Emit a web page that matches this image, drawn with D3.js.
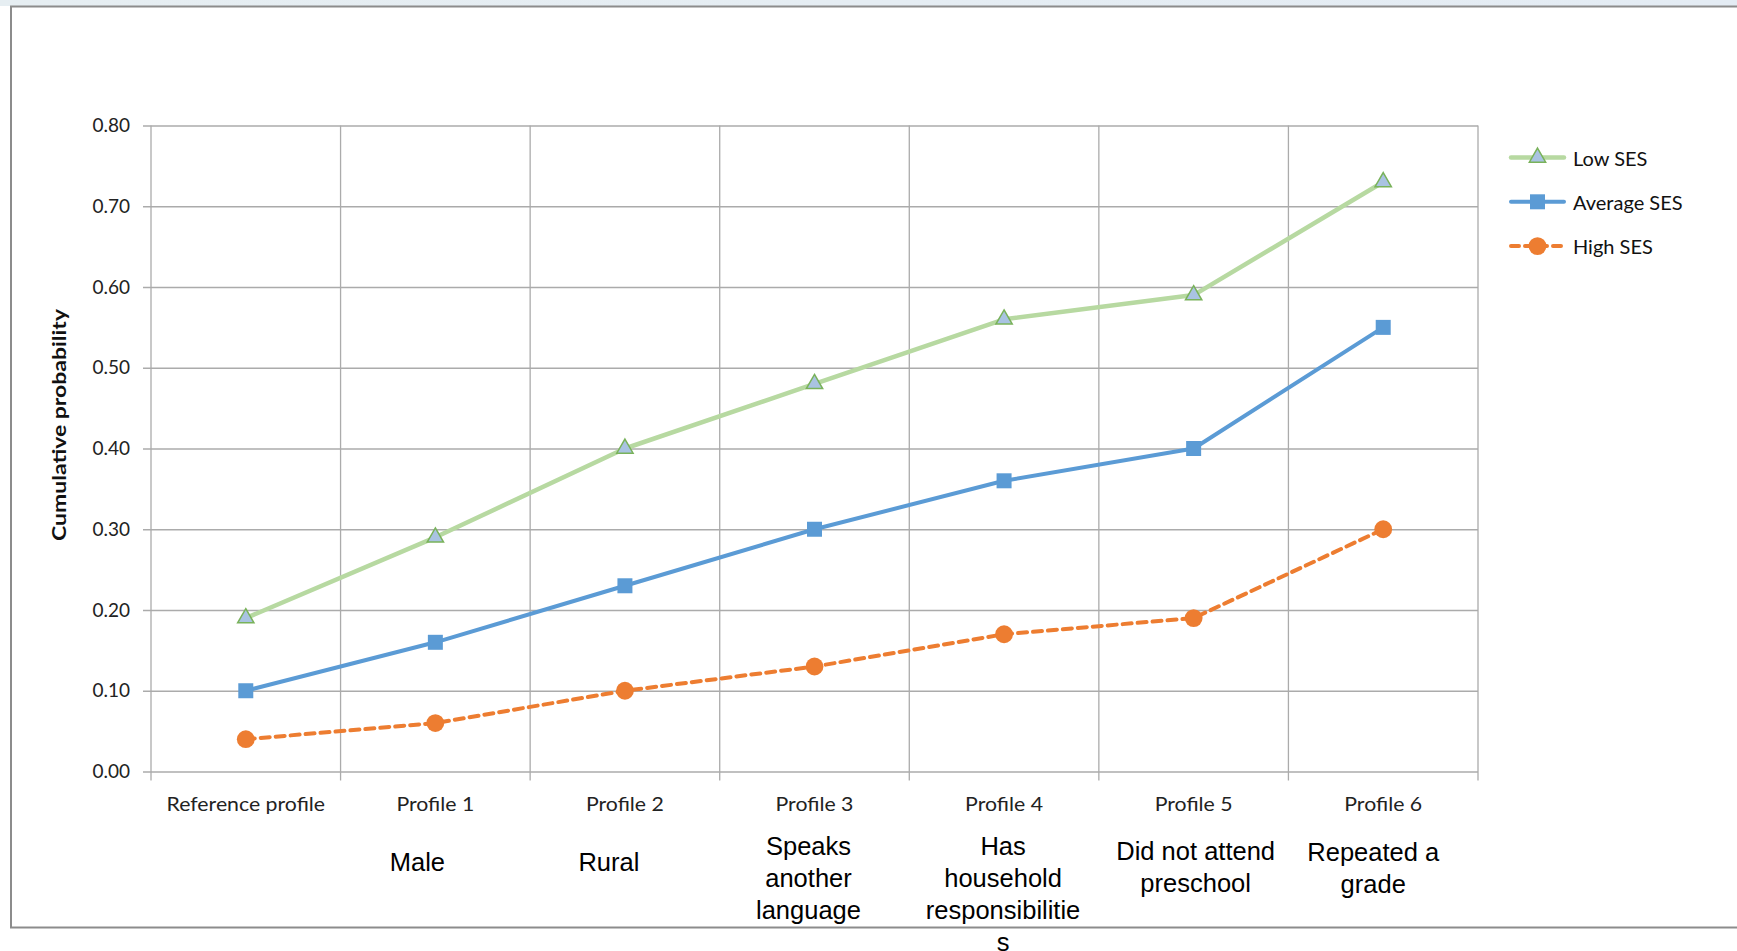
<!DOCTYPE html>
<html>
<head>
<meta charset="utf-8">
<script src="https://cdn.jsdelivr.net/npm/d3@7"></script>
<style>
  html, body { margin: 0; padding: 0; background: #ffffff; }
  svg { display: block; }
</style>
</head>
<body>
<svg id="chart" width="1737" height="951"></svg>
<script>
// Profiles along the x axis
const categories = ["Reference profile", "Profile 1", "Profile 2", "Profile 3", "Profile 4", "Profile 5", "Profile 6"];

// Description of each profile, drawn under the axis (one entry per line)
const descriptions = [
  [],
  ["Male"],
  ["Rural"],
  ["Speaks", "another", "language"],
  ["Has", "household", "responsibilitie", "s"],
  ["Did not attend", "preschool"],
  ["Repeated a", "grade"]
];

// Cumulative probability by socio-economic status
const lowSES     = [0.19, 0.29, 0.40, 0.48, 0.56, 0.59, 0.73];
const averageSES = [0.10, 0.16, 0.23, 0.30, 0.36, 0.40, 0.55];
const highSES    = [0.04, 0.06, 0.10, 0.13, 0.17, 0.19, 0.30];

const seriesNames = ["Low SES", "Average SES", "High SES"];
const yTicks = [0, 0.1, 0.2, 0.3, 0.4, 0.5, 0.6, 0.7, 0.8];

// ---- layout ----
const W = 1737, H = 951;
const plot = { left: 151, right: 1478, top: 125.5, bottom: 771.5 };
const labelFont = "Lato, 'Open Sans', sans-serif";

// fine offsets for the description boxes (x shift, y of first line centre)
const descLayout = [
  { dx: 0,   y: 0 },
  { dx: -18, y: 862 },
  { dx: -16, y: 862 },
  { dx: -6,  y: 845.5 },
  { dx: -1,  y: 845.5 },
  { dx: 2,   y: 851 },
  { dx: -10, y: 852 }
];

const svg = d3.select("#chart");

// window strip and chart frame
const grad = svg.append("defs").append("linearGradient")
  .attr("id", "strip").attr("x1", 0).attr("x2", 1).attr("y1", 0).attr("y2", 0);
grad.append("stop").attr("offset", "0%").attr("stop-color", "#e6eef2");
grad.append("stop").attr("offset", "100%").attr("stop-color", "#e4ecf4");
svg.append("rect").attr("x", 0).attr("y", 0).attr("width", W).attr("height", 6)
  .attr("fill", "url(#strip)");
svg.append("rect")
  .attr("x", 11).attr("y", 6.5).attr("width", W + 20).attr("height", 921)
  .attr("fill", "#ffffff").attr("stroke", "#8c8c8c").attr("stroke-width", 2);

const x = d3.scaleBand().domain(categories).range([plot.left, plot.right]).padding(0);
const y = d3.scaleLinear().domain([0, 0.8]).range([plot.bottom, plot.top]);

const cx = c => x(c) + x.bandwidth() / 2;
const gridColor = "#ababab";

// horizontal gridlines with y axis
const yAxis = d3.axisLeft(y).tickValues(yTicks).tickFormat(d3.format(".2f"))
  .tickSize(-(plot.right - plot.left)).tickPadding(14);
const gy = svg.append("g").attr("transform", `translate(${plot.left},0)`).call(yAxis);
gy.select(".domain").remove();
gy.selectAll(".tick line").attr("stroke", gridColor).attr("stroke-width", 1.3)
  .attr("x1", -8);
gy.selectAll(".tick text")
  .attr("font-family", labelFont).attr("font-size", 19)
  .attr("fill", "#222").attr("x", -21);

// vertical gridlines at band boundaries (and the plot edges)
const boundaries = categories.map(c => x(c)).concat([x.range()[1]]);
svg.append("g").selectAll("line").data(boundaries).join("line")
  .attr("x1", d => d).attr("x2", d => d)
  .attr("y1", plot.top).attr("y2", plot.bottom + 9)
  .attr("stroke", gridColor).attr("stroke-width", 1.3);

// category tick labels (slightly widened type)
svg.append("g").selectAll("g").data(categories).join("g")
  .attr("transform", d => `translate(${cx(d)},811) scale(1.12,1)`)
  .append("text")
  .attr("text-anchor", "middle")
  .attr("font-family", labelFont).attr("font-size", 19)
  .attr("fill", "#222").text(d => d);

// profile descriptions
const lineH = 32;
categories.forEach((c, i) => {
  const lines = descriptions[i];
  if (!lines.length) return;
  const t = svg.append("text")
    .attr("text-anchor", "middle")
    .attr("font-family", "'Liberation Sans', Arial, sans-serif")
    .attr("font-size", 25.5).attr("fill", "#000")
    .attr("dominant-baseline", "central");
  lines.forEach((ln, j) => {
    t.append("tspan").attr("x", cx(c) + descLayout[i].dx)
      .attr("y", descLayout[i].y + j * lineH).text(ln);
  });
});

// y axis title
svg.append("text")
  .attr("transform", `translate(58,${425}) rotate(-90)`)
  .attr("text-anchor", "middle").attr("dominant-baseline", "central")
  .attr("font-family", labelFont).attr("font-weight", "bold")
  .attr("font-size", 19).attr("fill", "#111")
  .attr("textLength", 232).attr("lengthAdjust", "spacingAndGlyphs")
  .text("Cumulative probability");

// ---- series ----
const series = [
  { name: seriesNames[0], values: lowSES,     line: "#b7d9a1", width: 4.5, dash: null,  marker: "triangle", fill: "#a9c3e2", stroke: "#79b25a" },
  { name: seriesNames[1], values: averageSES, line: "#5b9bd5", width: 4,   dash: null,  marker: "square",   fill: "#5b9bd5", stroke: "#5b9bd5" },
  { name: seriesNames[2], values: highSES,    line: "#ed7d31", width: 4,   dash: "9,6", marker: "circle",   fill: "#ed7d31", stroke: "#ed7d31" }
];

const symbolFor = {
  triangle: d3.symbol().type(d3.symbolTriangle).size(115),
  square:   d3.symbol().type(d3.symbolSquare).size(225),
  circle:   d3.symbol().type(d3.symbolCircle).size(250)
};

const lineGen = d3.line().x((d, i) => cx(categories[i])).y(d => y(d));

// draw high first so the low-SES series sits on top
series.slice().reverse().forEach(s => {
  svg.append("path").datum(s.values)
    .attr("d", lineGen).attr("fill", "none")
    .attr("stroke", s.line).attr("stroke-width", s.width)
    .attr("stroke-dasharray", s.dash)
    .attr("stroke-linecap", "round")
    .attr("stroke-linejoin", "round");
  svg.append("g").selectAll("path").data(s.values).join("path")
    .attr("transform", (d, i) => `translate(${cx(categories[i])},${y(d)})`)
    .attr("d", symbolFor[s.marker])
    .attr("fill", s.fill).attr("stroke", s.stroke)
    .attr("stroke-width", s.marker === "triangle" ? 1.5 : 0);
});

// ---- legend ----
const legend = svg.append("g");
series.forEach((s, i) => {
  const ly = 157.5 + i * 44.3;
  const g = legend.append("g").attr("transform", `translate(0,${ly})`);
  g.append("line").attr("x1", 1511).attr("x2", 1564).attr("y1", 0).attr("y2", 0)
    .attr("stroke", s.line).attr("stroke-width", s.width)
    .attr("stroke-dasharray", s.dash ? "8,6" : null)
    .attr("stroke-linecap", "round");
  g.append("path").attr("transform", "translate(1537.5,0)")
    .attr("d", symbolFor[s.marker])
    .attr("fill", s.fill).attr("stroke", s.stroke)
    .attr("stroke-width", s.marker === "triangle" ? 1.5 : 0);
  g.append("text").attr("x", 1573).attr("y", 0).attr("dominant-baseline", "central")
    .attr("font-family", labelFont).attr("font-size", 20)
    .attr("fill", "#111").text(s.name);
});
</script>
</body>
</html>
